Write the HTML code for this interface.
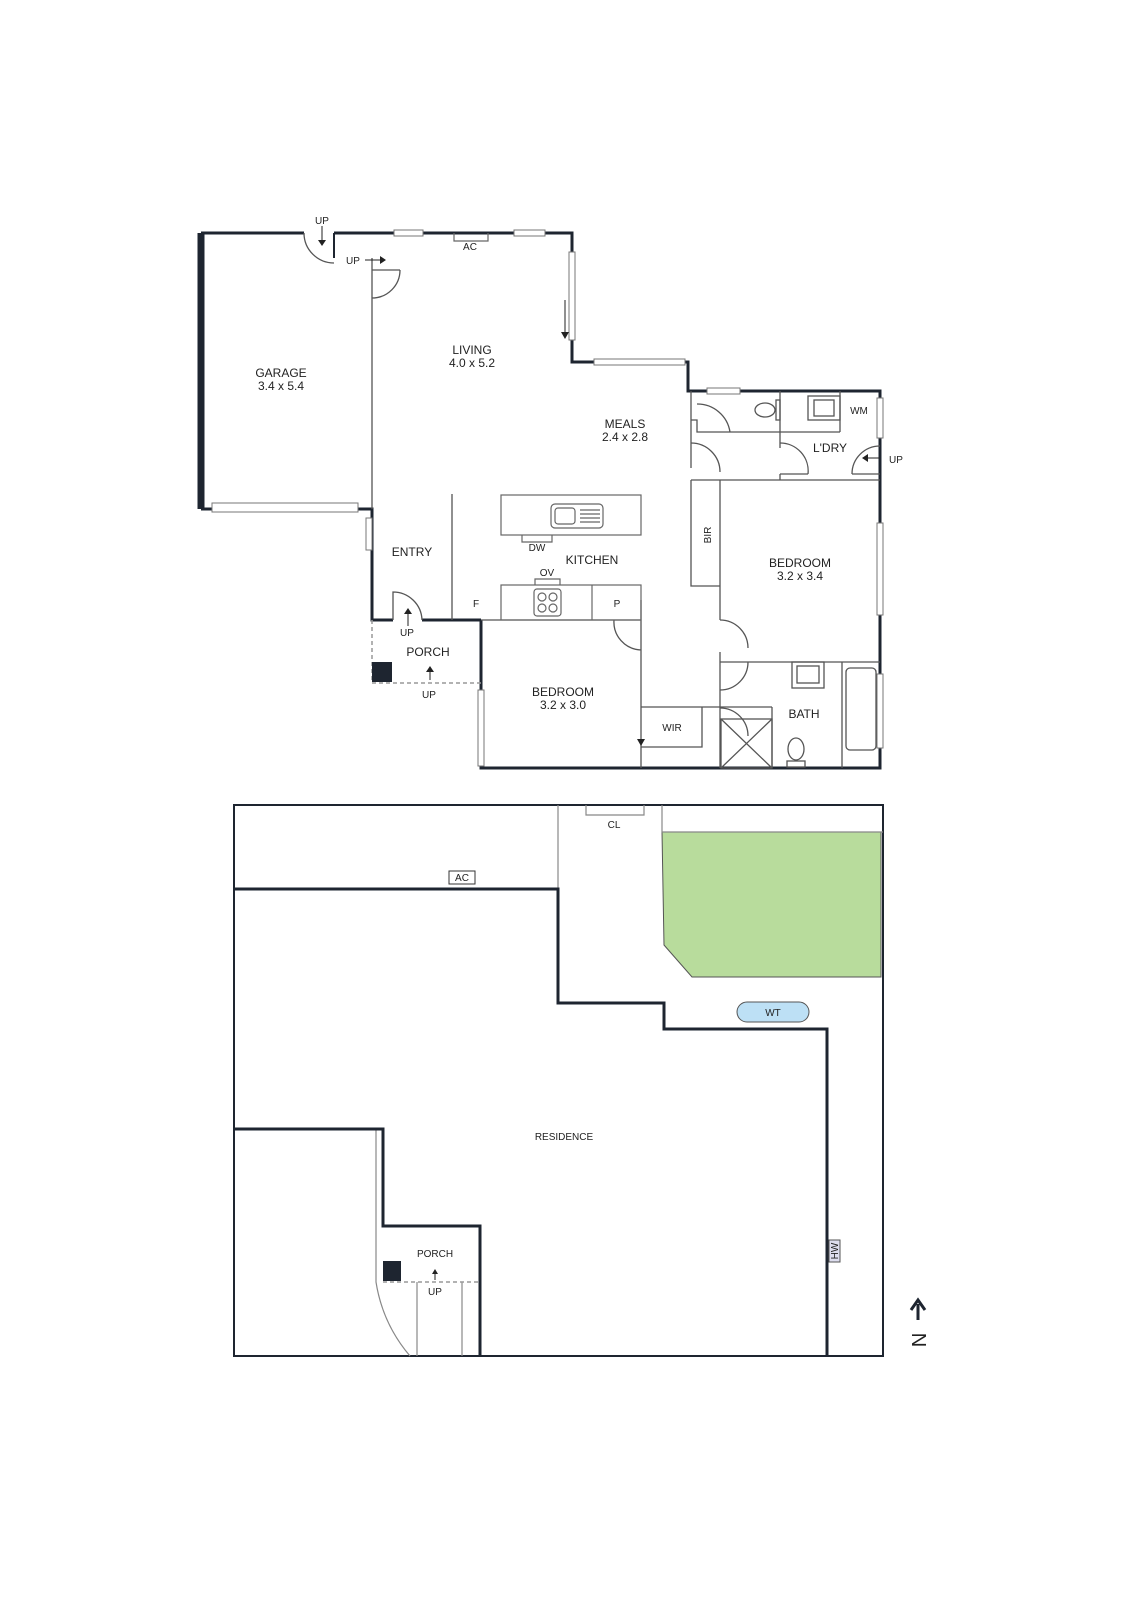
<!DOCTYPE html>
<html><head><meta charset="utf-8"><style>
html,body{margin:0;padding:0;background:#fff}
svg{display:block}
text{font-family:"Liberation Sans",sans-serif;fill:#222;text-anchor:middle}
</style></head><body>
<svg width="1131" height="1600" viewBox="0 0 1131 1600" xmlns="http://www.w3.org/2000/svg">
<g fill="none" stroke="#1e2530">
<path d="M201 233 H304 M334 233 H572 V362 H688 V391 H880 V768 H481 V620" stroke-width="3"/>
<path d="M201 233 V509" stroke-width="7"/>
<path d="M201 509 H212 M357 509 H372 V620 H393 M422 620 H481" stroke-width="3"/>
<path d="M334 233 V258" stroke-width="2"/>
<g stroke="#777" stroke-width="1" fill="#fff">
<rect x="394" y="230" width="29" height="6"/><rect x="514" y="230" width="31" height="6"/>
<rect x="569" y="252" width="6" height="88"/>
<rect x="594" y="359" width="91" height="6"/>
<rect x="707" y="388" width="33" height="6"/>
<rect x="877" y="398" width="6" height="40"/><rect x="877" y="523" width="6" height="92"/>
<rect x="877" y="674" width="6" height="74"/>
<rect x="212" y="503" width="146" height="9"/>
<rect x="366" y="518" width="6" height="32"/>
<rect x="478" y="690" width="6" height="76"/>
</g>
<g stroke="#555" stroke-width="1.3">
<path d="M372 258 V509 M372 258 V270 H400 M372 298 V300"/>
<path d="M304 233 A30 30 0 0 0 334 263"/>
<path d="M372 298 A28 28 0 0 0 400 270"/>
<path d="M452 494 V620"/>
<path d="M393 620 V592 A29 29 0 0 1 422 620"/>
<path d="M691 391 V468 M691 480 V586 H720 V480 H691 M720 480 V620 M720 652 V768 M720 480 H880"/>
<path d="M691 420 H697 V432 H780 V391 M780 420 V448 M780 474 V480 M840 391 V432 M780 432 H840 M780 474 H808 M852 474 H880"/>
<path d="M697 404 A33 33 0 0 1 730 432 M691 443 A29 29 0 0 1 720 472 M780 443 A28 28 0 0 1 808 474 M852 474 A28 28 0 0 1 880 446"/>
<path d="M720 620 A28 28 0 0 1 748 648 M720 662 H880 M720 690 A28 28 0 0 0 748 662 M720 708 A28 28 0 0 1 748 736"/>
<path d="M641 620 V768 M641 707 H720 M641 747 H702 V707 M641 620 H614 A28 28 0 0 0 641 650 M481 620 H641"/>
<path d="M772 707 V768 M772 707 H720 M842 662 V768"/>
<rect x="721" y="719" width="51" height="49"/><path d="M721 719 L772 768 M772 719 L721 768"/>
<rect x="846" y="668" width="30" height="82" rx="4"/>
<rect x="792" y="662" width="32" height="26"/><rect x="797" y="666" width="22" height="17"/>
<ellipse cx="796" cy="749" rx="8" ry="11"/><rect x="787" y="761" width="18" height="6"/>
<ellipse cx="765" cy="410" rx="10" ry="7"/><rect x="776" y="400" width="4" height="20"/>
<rect x="808" y="396" width="32" height="24"/><rect x="814" y="400" width="20" height="16"/>
<path d="M641 620 V600"/>
</g>
<g stroke="#666" stroke-width="1.2">
<rect x="501" y="495" width="140" height="40"/>
<rect x="551" y="504" width="52" height="24" rx="4"/><rect x="555" y="508" width="20" height="16" rx="3"/>
<path d="M580 510 H600 M580 514 H600 M580 518 H600 M580 522 H600"/>
<path d="M522 535 V542 H552 V535"/>
<rect x="501" y="585" width="140" height="35"/><path d="M592 585 V620"/>
<path d="M535 585 V579 H560 V585"/>
<rect x="534" y="589" width="27" height="27" rx="3"/>
<circle cx="542" cy="597" r="4"/><circle cx="553" cy="597" r="4"/><circle cx="542" cy="608" r="4"/><circle cx="553" cy="608" r="4"/>
<path d="M454 233 V241 H488 V233"/>
</g>
<path d="M372 620 V683 M372 683 H481" stroke="#999" stroke-dasharray="4 3" stroke-width="1.5"/>
<g stroke="#222" stroke-width="1"><path d="M322 226 V244 M565 300 V336 M365 260 H380 M408 626 V612 M430 680 V670 M880 458 H866"/></g>
</g>
<rect x="372" y="662" width="20" height="20" fill="#1e2530"/>
<g fill="#222"><path d="M318 240 L326 240 L322 246Z M380 256 L386 260 L380 264Z M561 332 L569 332 L565 339Z M404 614 L412 614 L408 608Z M426 672 L434 672 L430 666Z M868 454 L868 462 L862 458Z M637 739 L645 739 L641 746Z"/></g>

<g font-size="12">
<text x="281" y="377">GARAGE</text><text x="281" y="390">3.4 x 5.4</text>
<text x="472" y="354">LIVING</text><text x="472" y="367">4.0 x 5.2</text>
<text x="625" y="428">MEALS</text><text x="625" y="441">2.4 x 2.8</text>
<text x="412" y="556">ENTRY</text>
<text x="592" y="564">KITCHEN</text>
<text x="800" y="567">BEDROOM</text><text x="800" y="580">3.2 x 3.4</text>
<text x="563" y="696">BEDROOM</text><text x="563" y="709">3.2 x 3.0</text>
<text x="428" y="656">PORCH</text>
<text x="804" y="718">BATH</text>
<text x="830" y="452">L'DRY</text>
</g>
<g font-size="10">
<text x="322" y="224">UP</text><text x="353" y="264">UP</text><text x="470" y="250">AC</text>
<text x="859" y="414">WM</text><text x="896" y="463">UP</text>
<text x="537" y="551">DW</text><text x="547" y="576">OV</text>
<text x="476" y="607">F</text><text x="617" y="607">P</text>
<text x="407" y="636">UP</text><text x="429" y="698">UP</text>
<text x="672" y="731">WIR</text>
<text x="0" y="0" transform="translate(711 535) rotate(-90)">BIR</text>
</g>

<rect x="234" y="805" width="649" height="551" fill="none" stroke="#1e2530" stroke-width="2"/>
<path d="M662 832 H881 V977 H692 L664 945 L662 832Z" fill="#b8dc9c" stroke="#555" stroke-width="1"/>
<g fill="none" stroke="#888" stroke-width="1.2">
<path d="M558 805 V889 M662 805 V832 H883"/>
<path d="M586 805 V815 H644 V805"/>
<path d="M376 1129 V1282 A150 150 0 0 0 410 1356 M417 1282 V1356 M462 1282 V1356"/>
</g>
<path d="M234 889 H558 V1003 H664 V1029 H827 V1356 M234 1129 H383 V1226 H480 V1356" fill="none" stroke="#1e2530" stroke-width="3"/>
<path d="M383 1282 H480" stroke="#999" stroke-dasharray="4 3" stroke-width="1.5" fill="none"/>
<rect x="383" y="1261" width="18" height="20" fill="#1e2530"/>
<rect x="449" y="871" width="26" height="13" fill="#fff" stroke="#333"/>
<rect x="737" y="1002" width="72" height="20" rx="10" fill="#bde0f5" stroke="#555"/>
<rect x="829" y="1240" width="11" height="22" fill="#dde" stroke="#555"/>
<path d="M435 1280 V1272" stroke="#222"/><path d="M432 1274 L438 1274 L435 1269Z" fill="#222"/>
<g font-size="10">
<text x="614" y="828">CL</text><text x="462" y="881">AC</text><text x="773" y="1016">WT</text>
<text x="564" y="1140">RESIDENCE</text><text x="435" y="1257">PORCH</text><text x="435" y="1295">UP</text>
<text x="0" y="0" transform="translate(838 1251) rotate(-90)">HW</text>
</g>
<path d="M918 1320 V1304" stroke="#1e2530" stroke-width="3"/><path d="M911 1310 L918 1300 L925 1310" fill="none" stroke="#1e2530" stroke-width="3"/>
<text x="0" y="0" font-size="20" transform="translate(912 1340) rotate(90)">N</text>
</svg>
</body></html>
